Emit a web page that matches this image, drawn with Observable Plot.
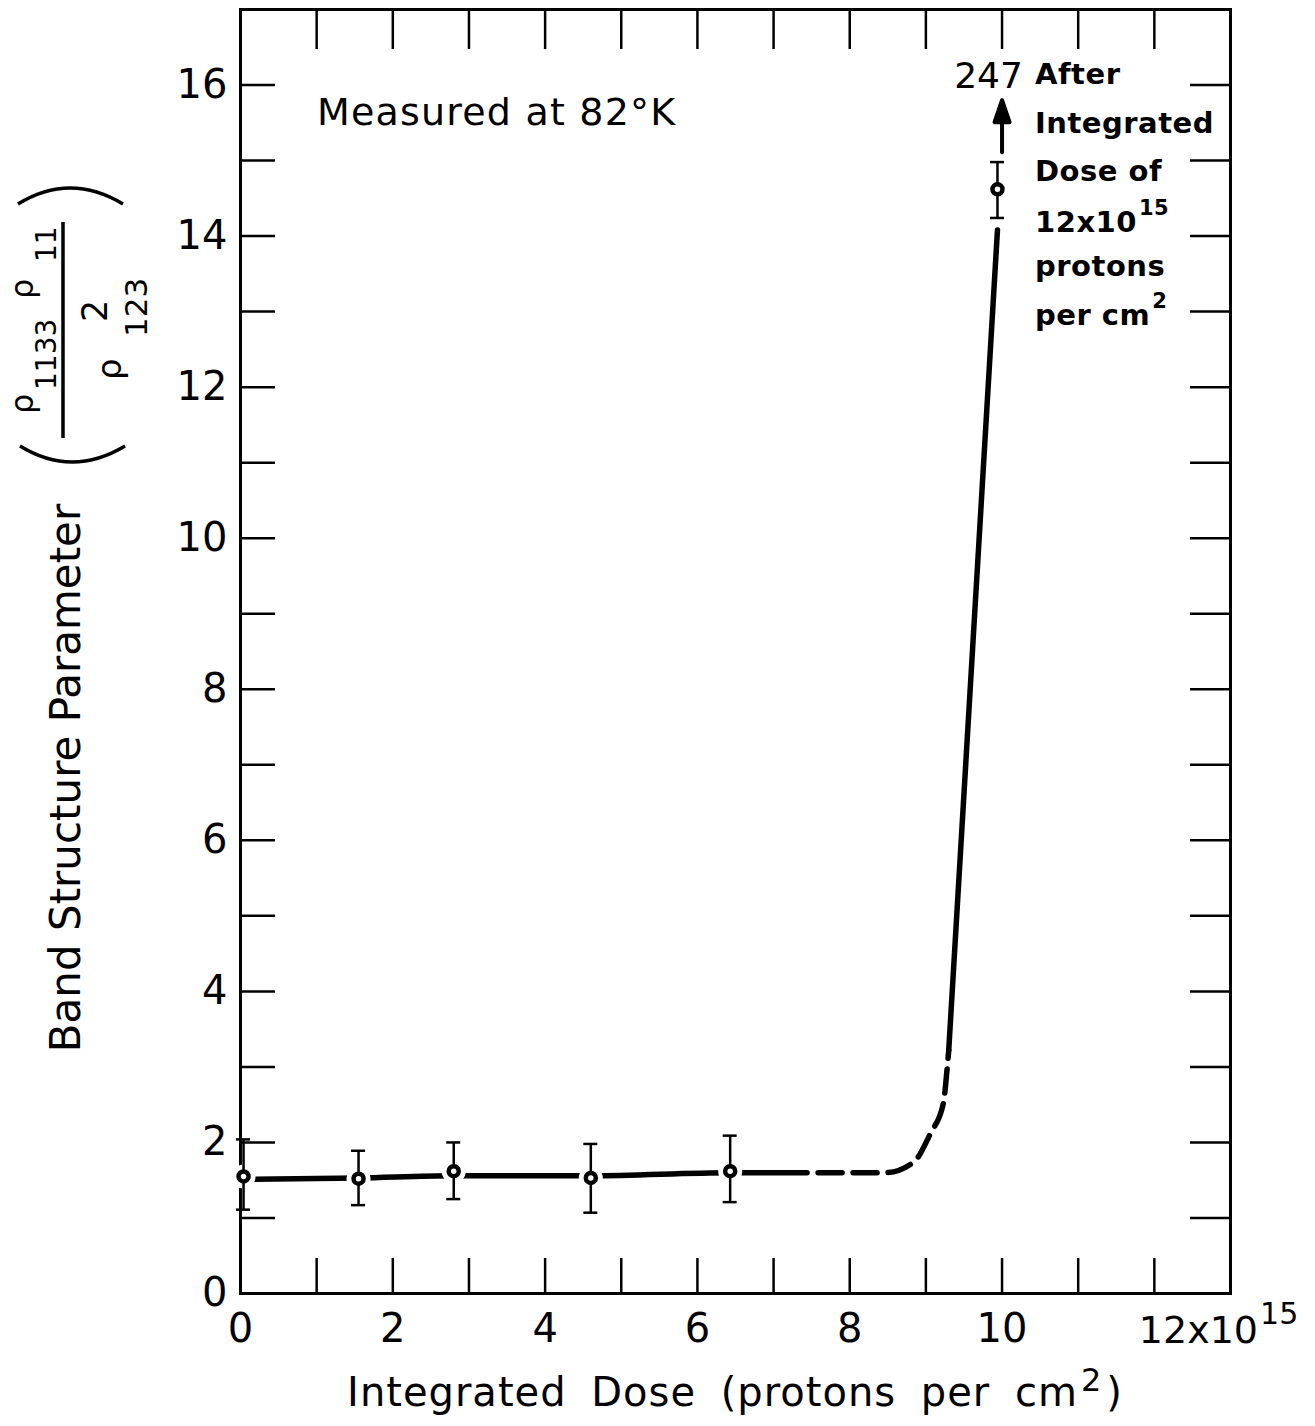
<!DOCTYPE html>
<html>
<head>
<meta charset="utf-8">
<script src="https://cdn.jsdelivr.net/npm/d3@7"></script>
<script src="https://cdn.jsdelivr.net/npm/@observablehq/plot@0.6"></script>
<style>
  html, body { margin: 0; padding: 0; background: #fff; }
  svg { display: block; }
</style>
</head>
<body>
<div id="chart"></div>
<script>
// ---------------- data ----------------
const doses   = [0.04, 1.55, 2.80, 4.60, 6.43, 9.94];   // x 10^15 protons per cm^2
const values  = [1.55, 1.52, 1.62, 1.53, 1.62, 14.62];  // band structure parameter
const errLow  = [1.11, 1.17, 1.25, 1.07, 1.21, 14.24];
const errHigh = [2.04, 1.89, 2.00, 1.98, 2.09, 14.98];

// hand-drawn curve through the data
const solidX = [0.10, 1.55, 2.80, 4.60, 6.43, 7.44];
const solidY = [1.51, 1.53, 1.56, 1.56, 1.60, 1.60];
const dashX  = [7.44, 8.47, 8.84, 9.06, 9.23, 9.28, 9.30];
const dashY  = [1.60, 1.60, 1.74, 2.12, 2.52, 2.99, 3.22];
const riseX  = [9.30, 9.62, 9.94];
const riseY  = [3.22, 8.65, 14.08];

// arrow "247" (off-scale value after 12x10^15)
const arrowX = [10.0];
const arrowY = [15.11];

// ticks
const xTickMarks = [1,2,3,4,5,6,7,8,9,10,11,12];
const yTickMarks = [1,2,3,4,5,6,7,8,9,10,11,12,13,14,15,16];
const xTickLabelValues = [0, 2, 4, 6, 8, 10];
const xTickLabels = ["0", "2", "4", "6", "8", "10"];
const yTickLabelValues = [0, 2, 4, 6, 8, 10, 12, 14, 16];
const yTickLabels = ["0", "2", "4", "6", "8", "10", "12", "14", "16"];

// annotation texts
const noteLines = ["After", "Integrated", "Dose of", "12x10", "protons", "per cm"];
const noteSups  = ["", "", "", "15", "", "2"];
const noteY     = [16.01, 15.36, 14.72, 14.05, 13.46, 12.81];
const noteX     = 10.44;

// ---------------- layout ----------------
const FONT = "DejaVu Sans";
const W = 1315, H = 1426;
const M = {top: 9, right: 85, bottom: 133, left: 240};
const innerW = W - M.left - M.right;
const innerH = H - M.top - M.bottom;

const points = doses.map((x, i) => ({x, y: values[i], lo: errLow[i], hi: errHigh[i]}));
const zip = (xs, ys) => xs.map((x, i) => ({x, y: ys[i]}));
const solid = zip(solidX, solidY);
const dashed = zip(dashX, dashY);
const rise = zip(riseX, riseY);
const arrow = zip(arrowX, arrowY);

const arrowShape = {
  draw(context, l) {
    const hl = 22, hw = 7.5;
    context.moveTo(0, 0);
    context.lineTo(0, -l + hl);
    context.moveTo(0, -l);
    context.lineTo(-hw, -l + hl);
    context.lineTo(hw, -l + hl);
    context.closePath();
  }
};

// rich text renderer (supports super/subscripts and rotation)
function addText(g, it) {
  const t = g.append("text")
    .attr("transform", `translate(${it.px},${it.py})` + (it.rotate ? ` rotate(${it.rotate})` : ""))
    .attr("text-anchor", it.anchor || "start")
    .attr("font-size", it.size)
    .attr("font-weight", it.weight || "normal");
  if (it.spacing) t.attr("letter-spacing", it.spacing);
  if (it.wordSpacing) t.attr("word-spacing", it.wordSpacing);
  let prev = 0;
  for (const p of it.parts) {
    const s = p.shift || 0;
    const ts = t.append("tspan").text(p.t).attr("font-size", p.size || it.size);
    if (s !== prev) ts.attr("dy", s - prev);
    if (p.dx) ts.attr("dx", p.dx);
    prev = s;
  }
}

function annotations(index, scales, values, dim) {
  const g = d3.create("svg:g").attr("font-family", FONT).attr("fill", "black");
  const X = scales.x, Y = scales.y;
  const bottom = dim.height - dim.marginBottom;

  // temperature note
  addText(g, {px: X(1.01), py: Y(15.47), size: 38, spacing: 1.2, parts: [{t: "Measured at 82°K"}]});
  // "247" off-scale value
  addText(g, {px: X(10.28), py: Y(15.96), size: 36, anchor: "end", parts: [{t: "247"}]});
  // note block
  noteLines.forEach((line, i) => {
    const parts = [{t: line}];
    if (noteSups[i]) parts.push({t: noteSups[i], size: 21, shift: -17, dx: 2});
    addText(g, {px: X(noteX), py: Y(noteY[i]), size: 29, weight: "bold", spacing: 0.5, parts});
  });
  // x tick label 12x10^15
  addText(g, {px: X(12) - 15, py: bottom + 50, size: 38,
    parts: [{t: "12x10"}, {t: "15", size: 30, shift: -19, dx: 2}]});

  // x-axis title
  addText(g, {px: dim.marginLeft + (dim.width - dim.marginLeft - dim.marginRight) / 2, py: bottom + 113,
    size: 40, anchor: "middle", wordSpacing: 11, spacing: 1,
    parts: [{t: "Integrated Dose (protons per cm"}, {t: "2", size: 32, shift: -15, dx: 3}, {t: ")", shift: 0, dx: 4}]});

  // y-axis title (rotated)
  addText(g, {px: 80, py: 778, rotate: -90, size: 42, anchor: "middle", parts: [{t: "Band Structure Parameter"}]});
  // large parentheses
  g.append("path").attr("d", "M18,204 Q70,172 123,204").attr("fill", "none").attr("stroke", "black").attr("stroke-width", 3.5);
  g.append("path").attr("d", "M20,446 Q72,478 125,446").attr("fill", "none").attr("stroke", "black").attr("stroke-width", 3.5);
  // fraction bar
  g.append("path").attr("d", "M63,222 L63,438").attr("stroke", "black").attr("stroke-width", 3.5);
  // numerator  rho_1133 rho_11
  addText(g, {px: 33, py: 414, rotate: -90, size: 32, parts: [{t: "ρ"}]});
  addText(g, {px: 56, py: 390, rotate: -90, size: 28, parts: [{t: "1133"}]});
  addText(g, {px: 33, py: 299, rotate: -90, size: 32, parts: [{t: "ρ"}]});
  addText(g, {px: 56, py: 262, rotate: -90, size: 28, parts: [{t: "11"}]});
  // denominator rho^2_123
  addText(g, {px: 121, py: 380, rotate: -90, size: 34, parts: [{t: "ρ"}]});
  addText(g, {px: 107, py: 322, rotate: -90, size: 35, parts: [{t: "2"}]});
  addText(g, {px: 147, py: 337, rotate: -90, size: 31, parts: [{t: "123"}]});

  return g.node();
}

const chart = Plot.plot({
  width: W, height: H,
  marginTop: M.top, marginRight: M.right, marginBottom: M.bottom, marginLeft: M.left,
  style: {fontFamily: FONT, background: "white", color: "black", overflow: "visible"},
  x: {domain: [0, 13], axis: null},
  y: {domain: [0, 17], axis: null},
  marks: [
    // inward ticks on all four sides
    Plot.ruleX(xTickMarks, {x: d => d, insetTop: innerH - 35, strokeWidth: 2.5}),
    Plot.ruleX(xTickMarks, {x: d => d, insetBottom: innerH - 40, strokeWidth: 2.5}),
    Plot.ruleY(yTickMarks, {y: d => d, insetRight: innerW - 35, strokeWidth: 2.5}),
    Plot.ruleY(yTickMarks, {y: d => d, insetLeft: innerW - 40, strokeWidth: 2.5}),
    Plot.frame({strokeWidth: 3}),
    // tick labels
    Plot.text(xTickLabelValues, {x: d => d, text: (d, i) => xTickLabels[i], frameAnchor: "bottom", dy: 48, fontSize: 40}),
    Plot.text(yTickLabelValues, {y: d => d, text: (d, i) => yTickLabels[i], frameAnchor: "left", dx: -13, textAnchor: "end", fontSize: 40}),
    // curve
    Plot.line(solid, {x: "x", y: "y", strokeWidth: 5.5, curve: "monotone-x"}),
    Plot.line(dashed, {x: "x", y: "y", strokeWidth: 5.5, curve: "monotone-x", strokeDasharray: "24,11", strokeDashoffset: 24}),
    Plot.line(rise, {x: "x", y: "y", strokeWidth: 5.5, curve: "monotone-x"}),
    // white gaps around the data points
    Plot.dot(points, {x: "x", y: "y", r: 12, fill: "white", stroke: null}),
    // error bars
    Plot.ruleX(points, {x: "x", y1: "lo", y2: "hi", strokeWidth: 2.5}),
    Plot.ruleY(points, {y: "lo", x1: "x", x2: "x", insetLeft: -7, insetRight: -7, strokeWidth: 2.5}),
    Plot.ruleY(points, {y: "hi", x1: "x", x2: "x", insetLeft: -7, insetRight: -7, strokeWidth: 2.5}),
    // data points
    Plot.dot(points, {x: "x", y: "y", r: 5, stroke: "black", strokeWidth: 4.5, fill: "white"}),
    // arrow to off-scale value
    Plot.vector(arrow, {x: "x", y: "y", length: 52, rotate: 0, anchor: "start", shape: arrowShape,
      stroke: "black", fill: "black", strokeWidth: 4}),
    annotations
  ]
});

document.getElementById("chart").append(chart);
</script>
</body>
</html>
